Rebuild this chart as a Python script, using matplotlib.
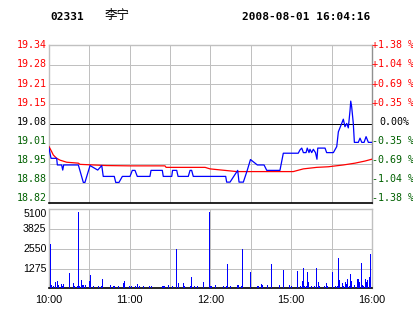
"""
Intraday chart for 02331 (Li Ning), price line, average line and volume bars.
"""
import numpy as np
import matplotlib
matplotlib.use("Agg")
from matplotlib import pyplot as plt

# Header info
STOCK_CODE = "02331"
STOCK_NAME = "李宁"
TIMESTAMP = "2008-08-01 16:04:16"
PREV_CLOSE = 19.08

# Time axis: minutes since 10:00 (lunch break removed), 240 minutes in total
time_ticks = [0, 60, 120, 180, 240]
time_labels = ["10:00", "11:00", "12:00", "15:00", "16:00"]

# Price / percentage axis labels
price_labels = ["19.34", "19.28", "19.21", "19.15", "19.08", "19.01", "18.95", "18.88", "18.82"]
pct_labels = ["+1.38 %", "+1.04 %", "+0.69 %", "+0.35 %", "0.00%", "-0.35 %", "-0.69 %", "-1.04 %", "-1.38 %"]

# Price line (blue)
price_t = [0, 1.5, 5.7, 6.2, 9.4, 10.2, 10.9, 21.8, 25.5, 26.7, 30.5, 36.2, 39.2, 40.3, 48.5,
           49.6, 52, 54.5, 60.2, 61.9, 63.9, 65.6, 75, 75.8, 84.2, 84.9, 91.2, 91.8, 94.9, 95.9,
           103.5, 104.8, 106, 107.2, 131.3, 132, 134.5, 140.2, 141.2, 144.4, 147.3, 149.7, 153.1,
           154.8, 159.8, 161.8, 171.6, 174.1, 185.2, 186.5, 187.8, 189, 191, 191.9, 193.2, 193.9,
           195.2, 196.4, 198, 199.1, 199.7, 205.1, 206.3, 211.3, 213.8, 215, 217.5, 218.7, 219.9,
           221.2, 222.4, 223.7, 224.2, 224.9, 226.1, 226.9, 229.8, 231.1, 232.4, 234.1, 235.6,
           237.3, 239.8]
price_v = [19.000, 18.966, 18.966, 18.944, 18.944, 18.927, 18.944, 18.944, 18.886, 18.886, 18.942,
           18.927, 18.942, 18.906, 18.906, 18.886, 18.886, 18.906, 18.906, 18.926, 18.926, 18.906,
           18.906, 18.926, 18.926, 18.906, 18.906, 18.926, 18.926, 18.906, 18.906, 18.926, 18.926,
           18.906, 18.906, 18.887, 18.887, 18.926, 18.887, 18.887, 18.926, 18.962, 18.950, 18.944,
           18.944, 18.926, 18.926, 18.983, 18.983, 18.994, 19.000, 18.985, 18.985, 19.000, 18.985,
           18.996, 18.985, 18.996, 18.985, 18.963, 19.000, 19.000, 18.985, 18.985, 19.005, 19.054,
           19.082, 19.096, 19.071, 19.082, 19.067, 19.126, 19.156, 19.137, 19.082, 19.019, 19.019,
           19.033, 19.019, 19.019, 19.038, 19.019, 19.019]

# Average price line (red)
avg_t = [0, 2, 3.2, 5.7, 8.2, 13.2, 21.8, 23, 42.9, 60.2, 86.2, 87, 116, 119.6, 139.5, 181.5,
         189, 198.9, 207.5, 218.7, 227.4, 234.8, 239.8]
avg_v = [19.005, 18.988, 18.977, 18.966, 18.960, 18.953, 18.950, 18.946, 18.942, 18.941, 18.941,
         18.936, 18.936, 18.931, 18.922, 18.922, 18.931, 18.936, 18.938, 18.944, 18.950, 18.957,
         18.963]

# Volume bars
vol_t = [1, 2, 3, 5, 6, 7, 9, 10, 11, 15, 18, 19, 21, 22, 23, 24, 25, 26, 27, 30, 31, 33, 37,
         39, 40, 46, 48, 49, 52, 55, 56, 60, 61, 64, 66, 67, 70, 75, 76, 84, 85, 86, 89, 92, 95,
         96, 100, 101, 105, 106, 108, 110, 115, 119, 120, 121, 124, 130, 132, 133, 135, 140, 141,
         143, 144, 150, 155, 156, 158, 159, 162, 165, 171, 174, 179, 180, 185, 187, 188, 189, 190,
         191, 192, 193, 195, 197, 199, 200, 201, 205, 206, 207, 211, 213, 214, 215, 216, 218, 219,
         220, 221, 222, 223, 224, 225, 227, 229, 230, 231, 232, 233, 234, 235, 236, 237, 238, 239]
vol_v = [2880, 194, 130, 407, 452, 194, 278, 150, 278, 967, 321, 150, 130, 4930, 150, 536, 194,
         213, 213, 472, 859, 150, 150, 150, 601, 213, 150, 150, 150, 321, 472, 150, 150, 150, 278,
         150, 150, 150, 150, 150, 150, 150, 213, 150, 2558, 321, 321, 150, 150, 730, 150, 150, 388,
         4930, 150, 150, 213, 150, 150, 1550, 150, 213, 213, 150, 2558, 1053, 150, 150, 278, 213,
         213, 1590, 213, 1182, 213, 150, 1118, 150, 472, 1311, 150, 150, 1053, 407, 150, 150, 1311,
         407, 150, 150, 342, 150, 1053, 150, 150, 1957, 536, 342, 150, 407, 278, 601, 150, 924, 472,
         213, 601, 601, 407, 1634, 213, 150, 601, 407, 536, 730, 2216]
vol_ticks = [1275, 2550, 3825, 5100]

GRID = "#c0c0c0"
RED = "#ff0000"
GREEN = "#006000"
BLUE = "#0000ff"
PX = 0.72  # one pixel in points at 100 dpi

fig = plt.figure(figsize=(4.14, 3.14), dpi=100)
fig.patch.set_facecolor("white")

# Price panel
ax = fig.add_axes([49 / 414, 1 - 203.3 / 314, 323 / 414, 158.6 / 314])
ymin = PREV_CLOSE * (1 - 0.0138)
ymax = PREV_CLOSE * (1 + 0.0138)
ax.set_xlim(0, 240)
ax.set_ylim(ymin, ymax)
levels = np.linspace(ymax, ymin, 9)
for i, lv in enumerate(levels):
    if i == 4:
        ax.axhline(lv, color="black", lw=PX, zorder=2, antialiased=False)
    elif i not in (0, 8):
        ax.axhline(lv, color=GRID, lw=PX, zorder=1, antialiased=False)
for t in range(30, 240, 30):
    ax.axvline(t, color=GRID, lw=PX, zorder=1, antialiased=False)
ax.plot(avg_t, avg_v, color=RED, lw=0.9, zorder=3)
ax.plot(price_t, price_v, color=BLUE, lw=0.9, zorder=4)
ax.set_xticks([])
ax.set_yticks([])
for side in ("top", "left", "right"):
    ax.spines[side].set_color(GRID)
    ax.spines[side].set_linewidth(1.0)
ax.spines["right"].set_color("#909090")
ax.spines["bottom"].set_color("black")
ax.spines["bottom"].set_linewidth(1.2)

# Axis labels on both sides of the price panel
label_pos = np.linspace(0.996, 0.032, 9)
for i, (pl, cl) in enumerate(zip(price_labels, pct_labels)):
    col = RED if i < 4 else ("black" if i == 4 else GREEN)
    ax.text(-0.006, label_pos[i], pl, transform=ax.transAxes, ha="right", va="center",
            color=col, fontsize=7.2, family="DejaVu Sans Mono")
    ax.text(1.0 if i != 4 else 1.022, label_pos[i], cl, transform=ax.transAxes,
            ha="left", va="center", color=col, fontsize=7.2, family="DejaVu Sans Mono")

# Volume panel
axv = fig.add_axes([49 / 414, 1 - 288.3 / 314, 323 / 414, 79 / 314])
axv.set_xlim(0, 240)
axv.set_ylim(0, 5100)
for v in vol_ticks[:-1]:
    axv.axhline(v, color=GRID, lw=PX, zorder=1, antialiased=False)
for t in range(30, 240, 30):
    axv.axvline(t, color=GRID, lw=PX, zorder=1, antialiased=False)
# one pixel wide bars
axv.bar(vol_t, vol_v, width=240 / 323, color=BLUE, linewidth=0, antialiased=False, zorder=3)
axv.set_yticks([])
axv.set_xticks(time_ticks)
axv.set_xticklabels(time_labels, fontsize=7.8, family="Liberation Sans")
axv.tick_params(axis="x", length=0, pad=5)
for side in ("top", "left", "right"):
    axv.spines[side].set_color(GRID)
    axv.spines[side].set_linewidth(1.0)
axv.spines["bottom"].set_color("black")
axv.spines["bottom"].set_linewidth(1.2)
for v in vol_ticks:
    axv.text(-0.008, v, str(v), transform=axv.get_yaxis_transform(), ha="right",
             va="top" if v == 5100 else "center", fontsize=7.6, family="Liberation Sans")

# Header
fig.text(50 / 414, 1 - 16.5 / 314, STOCK_CODE, ha="left", va="center", fontsize=8,
         fontweight="bold", family="DejaVu Sans Mono")
fig.text(105 / 414, 1 - 16 / 314, STOCK_NAME, ha="left", va="center", fontsize=9,
         family=["Noto Sans CJK SC", "DejaVu Sans"])
fig.text(370 / 414, 1 - 16.5 / 314, TIMESTAMP, ha="right", va="center", fontsize=8,
         fontweight="bold", family="DejaVu Sans Mono")

fig.savefig("out.png", dpi=100)
